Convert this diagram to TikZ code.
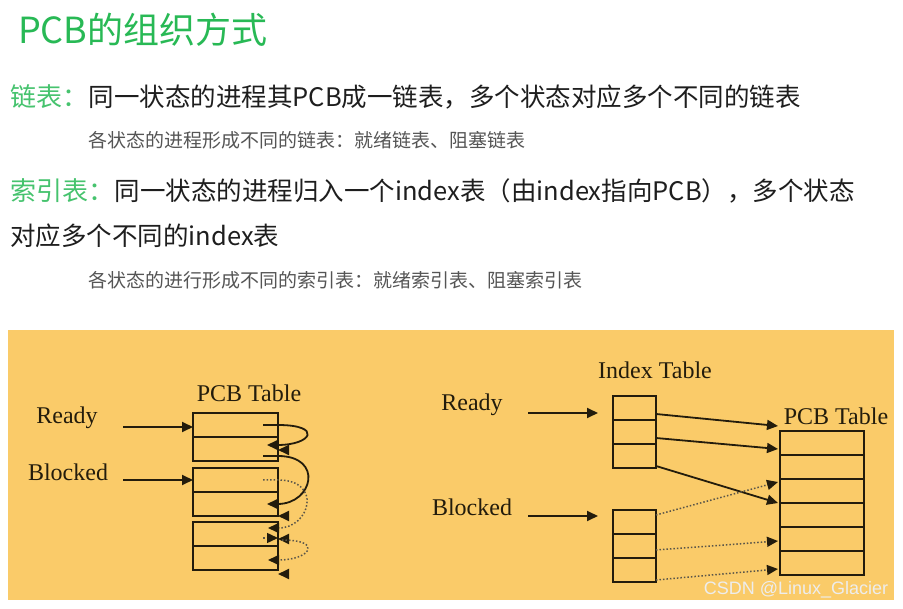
\documentclass[tikz,border=0pt]{standalone}
\usepackage{fontspec}
\setmainfont{Liberation Serif}
\newfontfamily\cjk{Noto Sans CJK SC}
\newfontfamily\markfont{Liberation Sans}
\usetikzlibrary{arrows.meta,positioning}
\definecolor{titlegreen}{RGB}{40,185,85}
\definecolor{keygreen}{RGB}{70,195,110}
\definecolor{panel}{RGB}{250,203,105}
\definecolor{ink}{RGB}{35,28,12}
\definecolor{bodytext}{RGB}{30,30,30}
\definecolor{subtext}{RGB}{85,85,85}

\begin{document}
\begin{tikzpicture}[x=1pt, y=-1pt,
    heading/.style={anchor=base west, inner sep=0, font=\cjk\fontsize{36}{40}\selectfont, text=titlegreen},
    keyword/.style={anchor=base west, inner sep=0, font=\cjk\fontsize{26}{30}\selectfont, text=keygreen},
    bodyline/.style={anchor=base west, inner sep=0, font=\cjk\fontsize{25.5}{30}\selectfont, text=bodytext},
    noteline/.style={anchor=base west, inner sep=0, font=\cjk\fontsize{19}{22}\selectfont, text=subtext},
    tablename/.style={inner sep=0, font=\fontsize{24}{28}\selectfont, text=ink},
    statename/.style={inner sep=0, font=\fontsize{24}{28}\selectfont, text=ink},
    pcbcell/.style={draw=ink, line width=1.8pt, minimum width=85pt, minimum height=24pt, inner sep=0, outer sep=0},
    idxcell/.style={pcbcell, minimum width=43pt},
    arrow/.style={-{Triangle[length=11pt,width=10pt]}, line width=1.8pt, draw=ink},
    dotarrow/.style={-{Triangle[length=11pt,width=10pt,color=ink]}, dotted, line width=1.5pt, draw=ink!75}
]
\useasboundingbox (0,0) rectangle (903,609);
\fill[white] (0,0) rectangle (903,609);
\fill[panel] (8,330) rectangle (894,600);

% Heading and explanation lines
\node[heading] (title) at (18,44) {PCB的组织方式};
\node[keyword] (chainkey) at (10,107) {链表：};
\node[bodyline] (chaindesc) at (chainkey.base east) {同一状态的进程其PCB成一链表，多个状态对应多个不同的链表};
\node[noteline] (chainnote) at (88,148) {各状态的进程形成不同的链表：就绪链表、阻塞链表};
\node[keyword] (indexkey) at (10,201) {索引表：};
\node[bodyline] (indexdesc) at (indexkey.base east) {同一状态的进程归入一个index表（由index指向PCB），多个状态};
\node[bodyline] (indexdesc2) at (10,246) {对应多个不同的index表};
\node[noteline] (indexnote) at (88,288) {各状态的进行形成不同的索引表：就绪索引表、阻塞索引表};

% Linked list (left)
\node[tablename] (pcbnameL) at (249,393) {PCB Table};
\node[statename] (readyL) at (67,418) {Ready};
\node[statename] (blockedL) at (68,472) {Blocked};
\node[pcbcell] (l11) at (235.5,425) {};
\node[pcbcell, below=0pt of l11] (l12) {};
\node[pcbcell] (l21) at (235.5,480) {};
\node[pcbcell, below=0pt of l21] (l22) {};
\node[pcbcell] (l31) at (235.5,534) {};
\node[pcbcell, below=0pt of l31] (l32) {};

\coordinate (readyfromL) at (123,427);
\coordinate (blockedfromL) at (123,480);
\draw[arrow] (readyfromL) -- (readyfromL -| l11.west);
\draw[arrow] (blockedfromL) -- (blockedfromL -| l21.west);

% Ready chain (solid)
\draw[arrow] ([xshift=-15pt]l11.east) -- (l11.east) .. controls +(45,0) and +(45,0) .. ([xshift=-11pt,yshift=4pt]l12.east);
\draw[arrow] ([xshift=8pt,yshift=-1pt]l12.east) -- ([yshift=-1pt]l12.east);
\draw[arrow] ([xshift=-15pt,yshift=-7pt]l12.east) -- ([yshift=-7pt]l12.east) .. controls +(46,0) and +(46,0) .. ([xshift=-11pt]l22.east);

% Blocked chain (dotted)
\draw[dotarrow] ([xshift=-15pt]l21.east) -- (l21.east) .. controls +(45,0) and +(42,0) .. ([xshift=-10pt,yshift=6pt]l31.east);
\draw[arrow] ([xshift=8pt]l22.south east) -- (l22.south east);
\draw[dotarrow] ([xshift=-15pt,yshift=-4pt]l31.east) -- ([yshift=-4pt]l31.east);
\draw[arrow] ([xshift=8pt,yshift=-5pt]l31.east) -- ([yshift=-5pt]l31.east);
\draw[dotarrow] ([xshift=4pt,yshift=-6pt]l31.east) .. controls +(42,0) and +(42,0) .. ([xshift=-10pt,yshift=-2pt]l32.east);
\draw[arrow] ([xshift=8pt,yshift=-4pt]l32.south east) -- ([yshift=-4pt]l32.south east);

% Index tables (right)
\node[tablename] (idxname) at (655,370) {Index Table};
\node[tablename] (pcbnameR) at (836,416) {PCB Table};
\node[statename] (readyR) at (472,405) {Ready};
\node[statename] (blockedR) at (472,507) {Blocked};
\node[idxcell] (r11) at (634.5,408) {};
\node[idxcell, below=0pt of r11] (r12) {};
\node[idxcell, below=0pt of r12] (r13) {};
\node[idxcell] (r21) at (634.5,522) {};
\node[idxcell, below=0pt of r21] (r22) {};
\node[idxcell, below=0pt of r22] (r23) {};
\node[pcbcell, minimum width=84pt] (p1) at (822,443) {};
\node[pcbcell, minimum width=84pt, below=0pt of p1] (p2) {};
\node[pcbcell, minimum width=84pt, below=0pt of p2] (p3) {};
\node[pcbcell, minimum width=84pt, below=0pt of p3] (p4) {};
\node[pcbcell, minimum width=84pt, below=0pt of p4] (p5) {};
\node[pcbcell, minimum width=84pt, below=0pt of p5] (p6) {};

\coordinate (readyfromR) at (528,413);
\coordinate (readytoR) at (598,413);
\coordinate (blockedfromR) at (528,516);
\coordinate (blockedtoR) at (598,516);
\draw[arrow] (readyfromR) -- (readytoR);
\draw[arrow] (blockedfromR) -- (blockedtoR);

% Index entries pointing to PCBs
\draw[arrow] ([yshift=-6pt]r11.east) -- ([xshift=-2pt,yshift=5pt]p1.north west);
\draw[arrow] ([yshift=-6pt]r12.east) -- ([xshift=-2pt,yshift=-6pt]p1.west);
\draw[arrow] ([yshift=2pt]r13.south east) -- ([xshift=-2pt]p3.south west);
\draw[dotarrow] ([yshift=7pt]r21.east) -- ([xshift=-2pt,yshift=-3pt]p3.north west);
\draw[dotarrow] ([yshift=-4pt]r22.east) -- ([xshift=-2pt,yshift=-2pt]p5.west);
\draw[dotarrow] ([yshift=2pt]r23.south east) -- ([xshift=-2pt,yshift=-6pt]p6.west);

\node[font=\markfont\fontsize{18}{22}\selectfont, text=white!93!black, inner sep=0] (mark) at (796,590) {CSDN @Linux\_Glacier};
\end{tikzpicture}
\end{document}
